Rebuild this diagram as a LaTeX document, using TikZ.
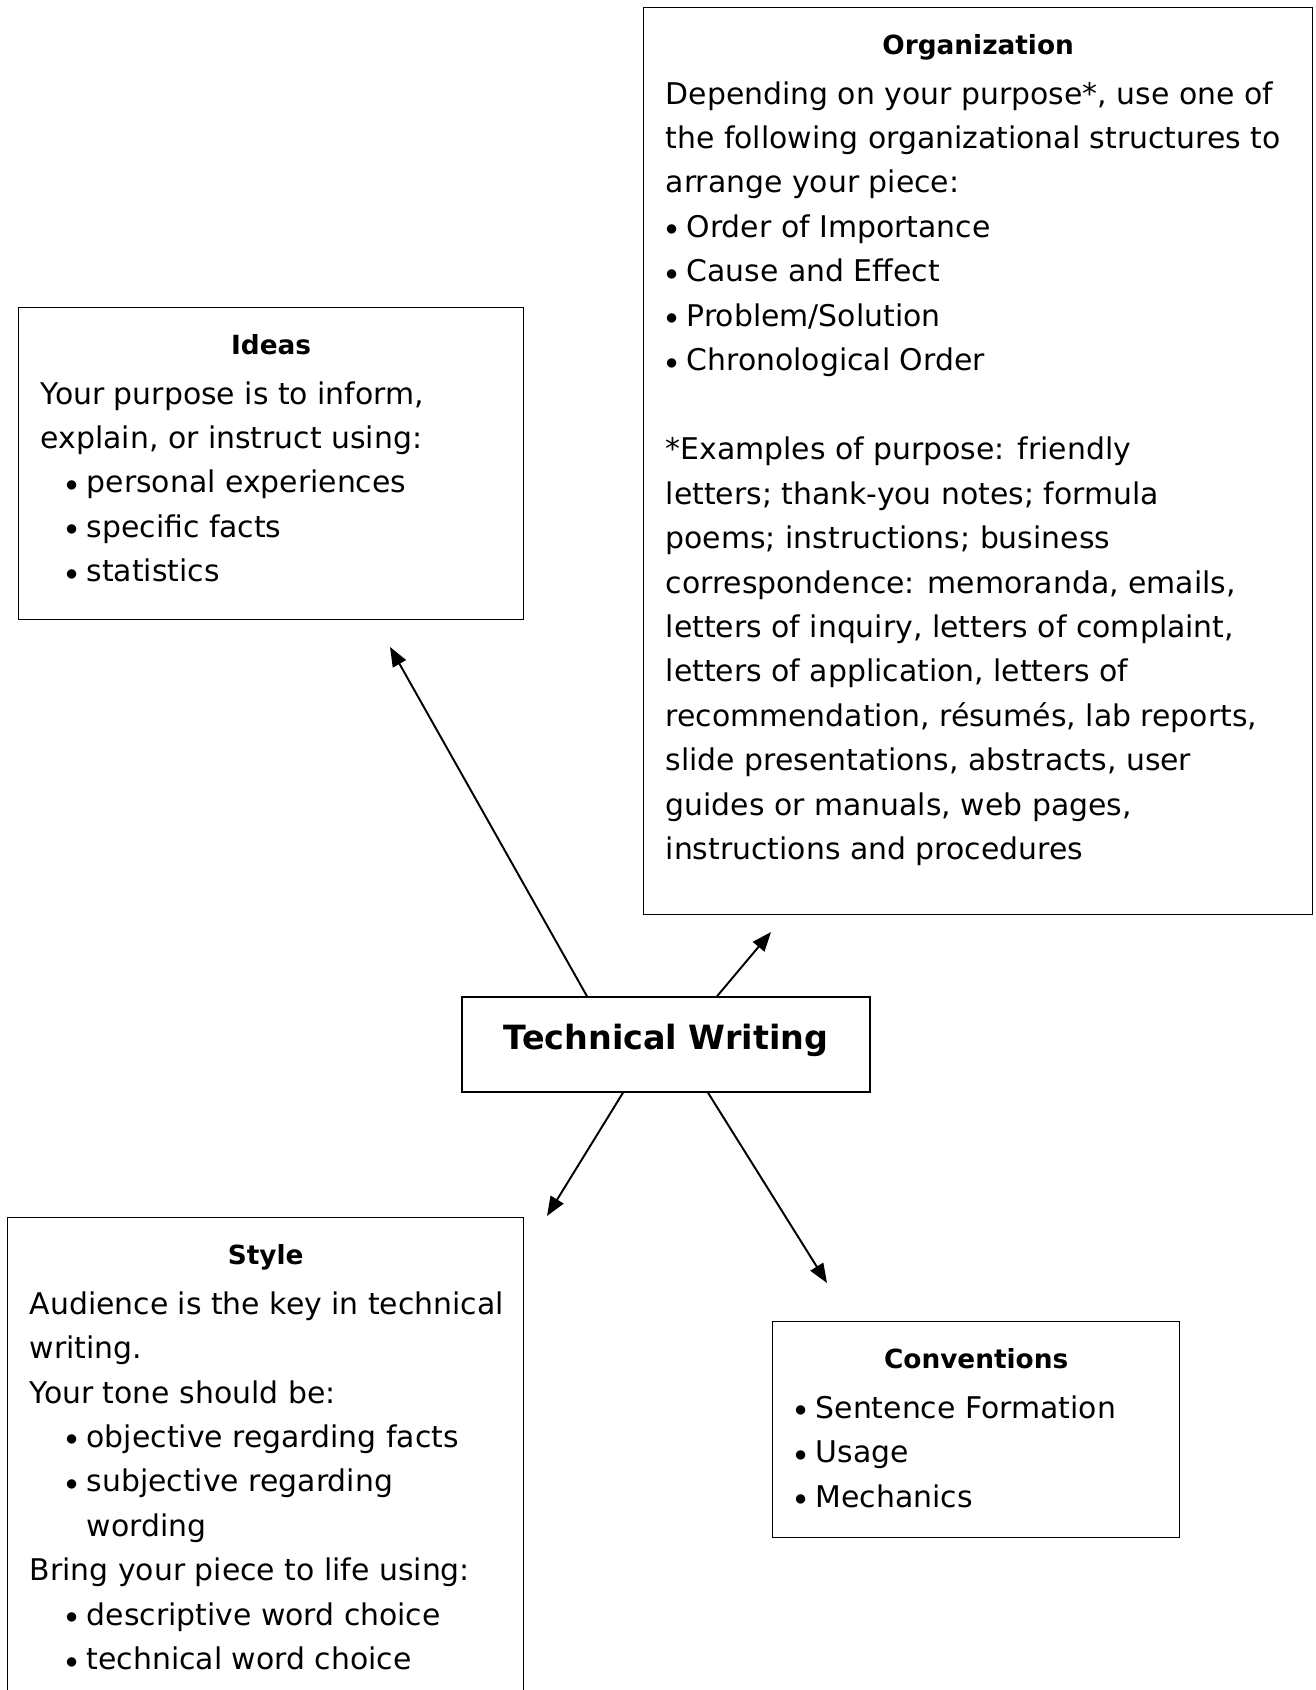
\documentclass[tikz,border=0pt]{standalone}
\usepackage{fontspec}
\setmainfont{DejaVu Sans}
\usepackage{tikz}
\usetikzlibrary{arrows.meta}

\newcommand{\bul}[2][0cm]{\hspace*{#1}\makebox[0.42cm][l]{\raisebox{0.05em}{\scalebox{0.8}{$\bullet$}}}#2}
\newcommand{\boxtext}[4]{\kern0.44cm\parbox[t][#2][t]{#1}{\raggedright
  {\centering\bfseries\fontsize{15}{18}\selectfont\hspace*{-0.34cm}#3\par}\vspace{2.8pt}#4}\kern0.1cm}

\tikzset{
  topic/.style={draw, line width=0.8pt, anchor=north west, inner xsep=0pt, inner ysep=0.54cm,
    font=\fontsize{17}{25.3}\selectfont},
  hub/.style={draw, line width=0.8pt, minimum width=8.16cm, minimum height=1.9cm, text depth=9.3pt,
    font=\fontsize{19}{23}\selectfont\bfseries},
  link/.style={line width=1.1pt, -{Triangle[length=11pt,width=8.5pt]}}
}

\begin{document}
\begin{tikzpicture}[x=0.02cm, y=-0.02cm]
  \useasboundingbox (0,0) rectangle (1315,1690);
  \clip (0,0) rectangle (1315,1690);
  \node [topic] (ideas) at (18, 307) {\boxtext{9.56cm}{5.16cm}{Ideas}{%
    Your purpose is to inform,\\
    explain, or instruct using:\\
    \bul[0.5cm]{personal experiences}\\
    \bul[0.5cm]{specific facts}\\
    \bul[0.5cm]{statistics}}};
  \node [topic] (org) at (643, 7) {\boxtext{12.84cm}{17.06cm}{Organization}{%
    Depending on your purpose*, use one of\\
    the following organizational structures to\\
    arrange your piece:\\
    \bul{Order of Importance}\\
    \bul{Cause and Effect}\\
    \bul{Problem/Solution}\\
    \bul{Chronological Order}\\[25.3pt]
    *Examples of purpose: friendly\\
    letters; thank-you notes; formula\\
    poems; instructions; business\\
    correspondence: memoranda, emails,\\
    letters of inquiry, letters of complaint,\\
    letters of application, letters of\\
    recommendation, résumés, lab reports,\\
    slide presentations, abstracts, user\\
    guides or manuals, web pages,\\
    instructions and procedures}};
  \node [topic] (style) at (7, 1217) {\boxtext{9.78cm}{9.32cm}{Style}{%
    Audience is the key in technical\\
    writing.\\
    Your tone should be:\\
    \bul[0.72cm]{objective regarding facts}\\
    \bul[0.72cm]{subjective regarding}\\
    \hspace*{1.14cm}wording\\
    Bring your piece to life using:\\
    \bul[0.72cm]{descriptive word choice}\\
    \bul[0.72cm]{technical word choice}}};
  \node [topic] (conv) at (772, 1321) {\boxtext{7.6cm}{3.24cm}{Conventions}{%
    \bul{Sentence Formation}\\
    \bul{Usage}\\
    \bul{Mechanics}}};
  \node [hub] (tw) at (666, 1044.5) {Technical Writing};
  \coordinate (ideastip) at (390, 647);
  \coordinate (orgtip) at (771, 932);
  \coordinate (styletip) at (547, 1216);
  \coordinate (convtip) at (827, 1283);
  \draw [link] ([xshift=-1.58cm]tw.north) -- (ideastip);
  \draw [link] ([xshift=1.02cm]tw.north) -- (orgtip);
  \draw [link] ([xshift=-0.86cm]tw.south) -- (styletip);
  \draw [link] ([xshift=0.84cm]tw.south) -- (convtip);
\end{tikzpicture}
\end{document}
